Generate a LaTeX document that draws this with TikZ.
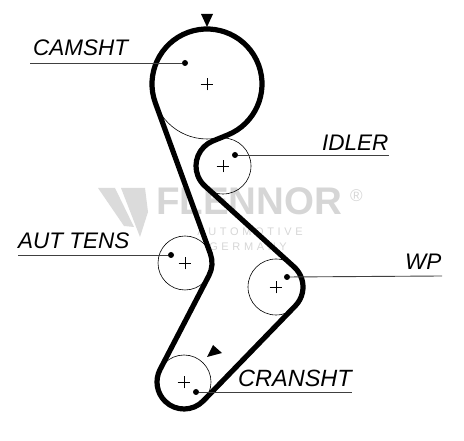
\documentclass[tikz,border=0pt]{standalone}
\usepackage{fontspec}
\setmainfont{Liberation Sans}
\newfontfamily\markfont[LetterSpace=33]{Liberation Sans}
\usetikzlibrary{calc,shapes.misc}
\begin{document}
\begin{tikzpicture}[x=1bp, y=1bp, font=\fontsize{22.5bp}{24bp}\selectfont\itshape]
\tikzstyle{pulley}=[draw, circle, inner sep=0pt, outer sep=0pt, line width=0.6bp]
\tikzstyle{crossmark}=[draw, cross out, rotate=45, inner sep=0pt, minimum size=8.5bp, line width=0.6bp]
\tikzstyle{pin}=[fill, circle, inner sep=0pt, minimum size=6bp]
\tikzstyle{leader}=[draw=black!75, line width=0.9bp]
\tikzstyle{belt}=[draw, line width=5.2bp, line join=round]
\tikzstyle{lbl}=[anchor=base west, inner sep=0pt]
\tikzstyle{tip}=[fill=black]
\tikzstyle{wm}=[black!16, inner sep=0pt, font=\fontsize{38.5bp}{40bp}\selectfont\bfseries]
\tikzstyle{wmsmall}=[wm, anchor=base, font=\fontsize{11bp}{12bp}\selectfont\markfont]
\useasboundingbox (0,0) rectangle (464,441);
% watermark
\fill[black!14] (98,253) -- (115,253) -- (134,214) -- (124,215) -- cycle;
\fill[black!14] (121,253) -- (145,253) -- (148,229) -- (140,204) -- cycle;
\node[wm, anchor=base west] (brand) at (156,226) {FLENNOR};
\node[wm, anchor=base west, font=\fontsize{17bp}{18bp}\selectfont] (reg) at (350,239) {®};
\node[wmsmall] (auto) at (250,205) {AUTOMOTIVE};
\node[wmsmall] (germany) at (248,190) {GERMANY};
% pulleys
\node[pulley, minimum size=110bp] (cam) at (207,357) {};
\node[pulley, minimum size=56bp] (idler) at (223,275) {};
\node[pulley, minimum size=54bp] (tens) at (185,178) {};
\node[pulley, minimum size=56bp] (wp) at (276,154) {};
\node[pulley, minimum size=54bp] (crank) at (184,59) {};
\foreach \p in {cam,idler,tens,wp,crank}
  \node[crossmark] (\p c) at (\p) {};
% belt
\draw[belt] ($(cam)+(200:55bp)$) arc[start angle=200, end angle=-67.9, radius=55bp]
  -- ($(idler)+(112.1:27bp)$) arc[start angle=112.1, end angle=227.8, radius=27bp]
  -- ($(wp)+(47.8:27bp)$) arc[start angle=47.8, end angle=-44.1, radius=27bp]
  -- ($(crank)+(-44.1:27bp)$) arc[start angle=-44.1, end angle=-207.5, radius=27bp]
  -- ($(tens)+(-27.5:27bp)$) arc[start angle=-27.5, end angle=20, radius=27bp]
  -- cycle;
% leaders
\node[pin] (campin) at (185,378) {};
\node[pin] (idlerpin) at (235,286) {};
\node[pin] (tenspin) at (171,186) {};
\node[pin] (wppin) at (287,164) {};
\node[pin] (crankpin) at (196,49) {};
\coordinate (camend) at (30,378);
\coordinate (idlerend) at (389,286);
\coordinate (tensend) at (18,186);
\coordinate (wpend) at (442,165);
\coordinate (crankend) at (352,49);
\draw[leader] (campin) -- (camend);
\draw[leader] (idlerpin) -- (idlerend);
\draw[leader] (tenspin) -- (tensend);
\draw[leader] (wppin) -- (wpend);
\draw[leader] (crankpin) -- (crankend);
% labels
\node[lbl] (camtext) at (33,385) {CAMSHT};
\node[lbl] (idlertext) at (322,290) {IDLER};
\node[lbl] (tenstext) at (18,192) {AUT TENS};
\node[lbl] (wptext) at (405,171) {WP};
\node[lbl, font=\fontsize{23.5bp}{24bp}\selectfont\itshape] (cranktext) at (238,54) {CRANSHT};
% arrowheads
\fill[tip] (201,427) -- (213,427) -- (207,414) -- cycle;
\fill[tip] (213,96) -- (222,88) -- (207,84) -- cycle;
\end{tikzpicture}
\end{document}
